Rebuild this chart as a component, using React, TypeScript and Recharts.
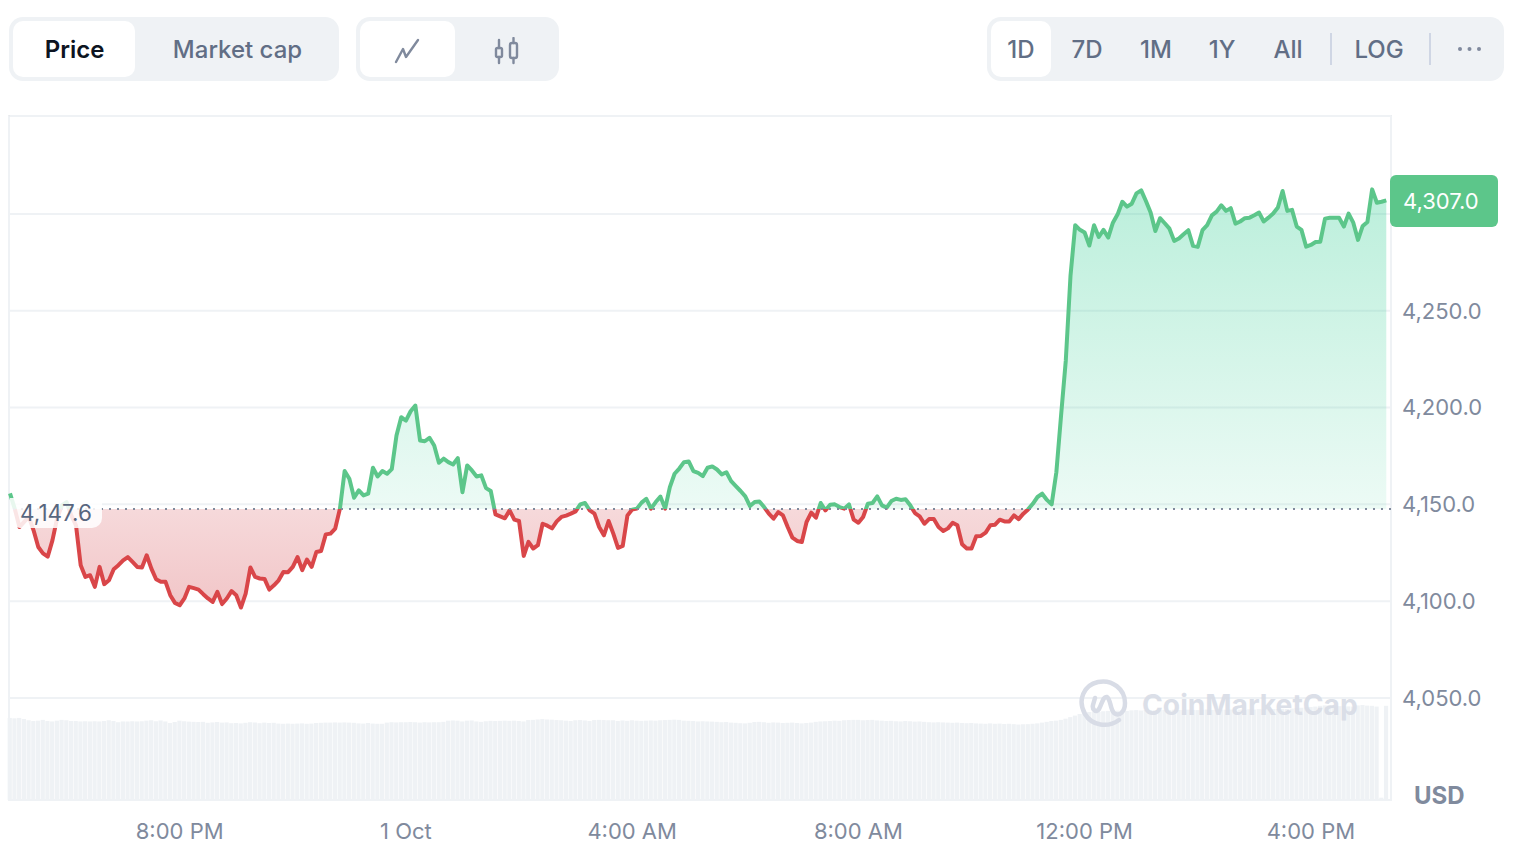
import { Area, Bar, CartesianGrid, ComposedChart, ReferenceLine, XAxis, YAxis } from "recharts";

// one sample every 5 minutes
const prices = [
  4155.7, 4147.8, 4138.3, 4140.9, 4143.5, 4136.6, 4128, 4124.7, 4123, 4131.4, 4142.8, 4149.5, 4151.2, 4144.3, 4139.2, 4118.6, 4112.5, 4113.4, 4107.4, 4117.7,
  4108.8, 4110.8, 4116.5, 4118.6, 4121.1, 4122.8, 4120.3, 4117.7, 4117.4, 4123.7, 4116.8, 4111.3, 4110, 4110, 4103.1, 4099.1, 4097.9, 4101.4, 4107.4, 4106.7,
  4106, 4103.6, 4101.4, 4099.6, 4104.8, 4098.5, 4101.4, 4105.2, 4103.1, 4096.7, 4103.9, 4117.4, 4112.5, 4111.7, 4111.5, 4106, 4108.2, 4110.8, 4115.1, 4115,
  4117.7, 4122.8, 4116, 4121.5, 4117.7, 4125.4, 4125.9, 4134.5, 4134.9, 4137.5, 4147.8, 4167.2, 4163.2, 4153.4, 4157.2, 4154.6, 4155.5, 4168.9, 4164.4, 4167.2,
  4165.8, 4168.2, 4185.6, 4195, 4193.3, 4198.1, 4201, 4183, 4182.6, 4184.4, 4180.4, 4171.5, 4173.6, 4171.8, 4170.6, 4173.9, 4156.3, 4170.1, 4167.5, 4164.4,
  4165, 4158.4, 4156.9, 4144.8, 4143.8, 4142.8, 4146.9, 4142.1, 4141.4, 4123.4, 4130.6, 4127.2, 4128.9, 4140, 4139, 4137.6, 4141.2, 4143.5, 4144.2, 4145.2,
  4146.4, 4150, 4150.7, 4146.9, 4145.2, 4138.3, 4134, 4141.4, 4134.9, 4127.5, 4128.5, 4144.3, 4147.3, 4147.8, 4150.9, 4152.9, 4147.8, 4151.2, 4154, 4147.8,
  4158.9, 4165.8, 4168.5, 4171.8, 4172.2, 4167.2, 4166.3, 4164.6, 4168.9, 4169.6, 4168, 4165.5, 4166.6, 4162, 4159.4, 4156.9, 4154.1, 4149.1, 4151.2, 4151.5,
  4148.6, 4145.2, 4142.6, 4146, 4144.3, 4138.3, 4132.8, 4131.1, 4130.6, 4140.9, 4145.7, 4143.1, 4150.7, 4146.9, 4149.8, 4150, 4148.6, 4147.8, 4150, 4142.1,
  4140.5, 4143.5, 4150.3, 4150.7, 4154.1, 4149.5, 4148.3, 4151.7, 4152.9, 4152.3, 4152.6, 4149.5, 4145.5, 4143.8, 4140, 4142.4, 4142.4, 4138.3, 4136.2, 4137.6,
  4140.5, 4139.2, 4129.4, 4127.2, 4127.2, 4133.5, 4133.7, 4135.4, 4139.2, 4139.5, 4142.1, 4141.2, 4141.2, 4144.3, 4142.4, 4145.2, 4147.4, 4150.3, 4153.8, 4155.5,
  4152.3, 4150, 4166.6, 4195.9, 4224.2, 4268, 4294.2, 4291.8, 4290.4, 4283.7, 4294.2, 4288.1, 4291.8, 4287.8, 4295.5, 4299.8, 4306.3, 4303.8, 4305.3, 4310.6,
  4312.2, 4306.7, 4300.7, 4291.2, 4297.8, 4295.2, 4292.4, 4286.1, 4287.3, 4289.5, 4291.6, 4283.5, 4283, 4291.6, 4294.2, 4299.3, 4301.2, 4304.5, 4301.6, 4303,
  4295, 4296.1, 4297.8, 4298.1, 4299.3, 4300.7, 4296.1, 4298.1, 4300.2, 4303.3, 4311.9, 4301.6, 4302.1, 4293.5, 4291.8, 4283.1, 4284, 4285.5, 4285.7, 4297.6,
  4298, 4298.1, 4298, 4293.5, 4300.2, 4295.5, 4286.6, 4293.8, 4295.9, 4312.7, 4305.8, 4306.3, 4307,
];

// billions USD, 24h rolling
const volumes = [
  42, 41.8, 42, 41.4, 40.8, 40.4, 40.6, 41, 40.4, 40.2, 40.6, 41, 40.8, 40.4, 40.4, 40.2, 40.3, 40.2, 40.3, 40.2,
  40.4, 40.8, 40.4, 39.8, 40.2, 40.2, 40.3, 40.2, 40.3, 40.6, 40.8, 40.3, 40.7, 40.2, 39.4, 39.9, 40.6, 40.3, 40.1, 40,
  39.9, 40, 39.5, 39.7, 39.9, 39.6, 39.7, 39.3, 39.4, 39.2, 39.5, 39.8, 39.6, 39.3, 39.6, 39.4, 39.5, 39.1, 39, 39.1,
  39, 39.1, 39.2, 39, 39.1, 39.4, 39.5, 39.6, 39.6, 39.7, 39.6, 39.7, 39.6, 39.5, 39.2, 39.1, 39.4, 39.1, 39, 39,
  39.6, 39.8, 39.7, 39.8, 39.8, 39.9, 39.8, 39.6, 39.8, 39.7, 39.8, 39.8, 40, 40.6, 40.7, 40.6, 40.2, 40.6, 40.7, 40.2,
  40, 40.3, 40.5, 40.4, 40.5, 40.6, 40.5, 40.6, 40.4, 40.2, 40.9, 41, 41.2, 41.4, 41.2, 41.1, 40.9, 40.8, 40.6, 40.4,
  40.8, 40.9, 40.7, 40.4, 40.9, 41, 40.9, 40.8, 40.8, 40.4, 40.7, 40.5, 40.8, 40.6, 40.5, 40.6, 40.7, 40.6, 40.8, 40.9,
  41, 41.1, 41, 40.6, 40.5, 40.4, 40.2, 40.3, 40.2, 40.1, 40, 39.8, 39.9, 39.6, 39.5, 39.3, 39.2, 39.5, 39.9, 40,
  39.8, 39.5, 39.7, 39.6, 39.4, 39.5, 39.6, 39.4, 39.2, 39.4, 39.6, 40, 40.2, 40.3, 40.4, 40.6, 40.5, 40.8, 40.9, 41,
  41, 40.8, 40.9, 41, 40.7, 40.6, 40.4, 40.5, 40.3, 40.2, 40.4, 40.3, 40.1, 40.2, 40, 39.8, 39.7, 39.8, 39.7, 39.6,
  39.5, 39.6, 39.4, 39.3, 39.4, 39.2, 39.1, 39, 39.2, 39, 39.1, 38.9, 39, 38.8, 38.6, 38.7, 38.8, 39, 39.2, 39.6,
  40, 40.4, 40.6, 41, 41.6, 42.4, 43.2, 44, 44.6, 45, 45.2, 45.1, 45.4, 45.6, 45.5, 45.7, 45.8, 45.6, 45.9, 46,
  45.8, 46.1, 46, 45.9, 46, 46.1, 46, 46.2, 46.1, 46, 46.2, 46.1, 46, 46.2, 46.3, 46.1, 46.2, 46.3, 46.2, 46.3,
  46.4, 46.3, 46.2, 46.4, 46.3, 46.5, 46.4, 46.6, 46.5, 46.6, 46.7, 46.6, 46.8, 47, 47.2, 47.4, 47.6, 47.8, 48.2, 48.4,
  48.6, 48.3, 48, 48.1, 47.9, 47.8, 48.4, 48.6, 48.3, 48.2, 47.8, 1.2, 48.2,
];

const tickLabels: Record<number, string> = {
  36: "8:00 PM",
  84: "1 Oct",
  132: "4:00 AM",
  180: "8:00 AM",
  228: "12:00 PM",
  276: "4:00 PM",
};
const priceTicks = [4050, 4100, 4150, 4200, 4250, 4300];
const ranges = ["1D", "7D", "1M", "1Y", "All"];

const baseline = 4147.6;
const lastPrice = 4307.0;
const priceDomain: [number, number] = [3997.3, 4350.6];
const volumeDomain: [number, number] = [0, 350];

const data = prices.map((price, i) => ({ i, price, volume: volumes[i] }));

const FONT = "Inter, sans-serif";
const splitAt = (priceDomain[1] - baseline) / (priceDomain[1] - priceDomain[0]);
const fmt = (v: number) =>
  v.toLocaleString("en-US", { minimumFractionDigits: 1, maximumFractionDigits: 1 });

function Label({ x, text, active }: { x: number; text: string; active?: boolean }) {
  return (
    <div
      style={{
        position: "absolute",
        left: x,
        top: 49,
        transform: "translate(-50%, -50%)",
        fontSize: 24,
        fontWeight: active ? 600 : 500,
        color: active ? "#0d1421" : "#616e85",
        whiteSpace: "nowrap",
      }}
    >
      {text}
    </div>
  );
}

function Pill({ x, width }: { x: number; width: number }) {
  return (
    <div
      style={{ position: "absolute", left: x, top: 17, width, height: 64, background: "#eff2f5", borderRadius: 14 }}
    />
  );
}

function ActivePill({ x, width }: { x: number; width: number }) {
  return (
    <div
      style={{ position: "absolute", left: x, top: 21, width, height: 56, background: "#fff", borderRadius: 10 }}
    />
  );
}

function Divider({ x }: { x: number }) {
  return <div style={{ position: "absolute", left: x, top: 33, width: 1.5, height: 32, background: "#cfd6e4" }} />;
}

export default function App() {
  return (
    <div style={{ position: "absolute", left: 0, top: 0, width: 1534, height: 846, fontFamily: FONT, overflow: "hidden", background: "#fff" }}>
      <Pill x={9} width={330} />
      <ActivePill x={13} width={122} />
      <Label x={74.5} text="Price" active />
      <Label x={237.5} text="Market cap" />

      <Pill x={355.5} width={203.5} />
      <ActivePill x={359.5} width={95.5} />
      <svg style={{ position: "absolute", left: 393, top: 37 }} width={28} height={28} viewBox="0 0 28 28" fill="none">
        <path d="M3 25 L10 12 L13 20 L25 3" stroke="#808a9d" strokeWidth={2.4} strokeLinejoin="round" strokeLinecap="round" />
      </svg>
      <svg style={{ position: "absolute", left: 493, top: 37 }} width={28} height={28} viewBox="0 0 28 28" fill="none" stroke="#808a9d" strokeWidth={2.4}>
        <rect x={3} y={11} width={6} height={9} rx={1.5} />
        <path d="M6 3 V11 M6 20 V26" strokeLinecap="round" />
        <rect x={17} y={6} width={7} height={15} rx={2} />
        <path d="M20.5 1 V6 M20.5 21 V26" strokeLinecap="round" />
      </svg>

      <Pill x={987} width={517} />
      <ActivePill x={991} width={60} />
      {ranges.map((r, i) => (
        <Label key={r} x={[1021, 1087, 1156, 1222, 1288][i]} text={r} />
      ))}
      <Divider x={1330} />
      <Label x={1379} text="LOG" />
      <Divider x={1429} />
      <svg style={{ position: "absolute", left: 1456, top: 44 }} width={28} height={10} fill="#808a9d">
        <circle cx={4} cy={5} r={2} />
        <circle cx={13.5} cy={5} r={2} />
        <circle cx={23} cy={5} r={2} />
      </svg>

      {/* chart frame */}
      <div
        style={{
          position: "absolute",
          left: 8,
          top: 115,
          width: 1380,
          height: 682,
          borderTop: "2px solid #e8eaed",
          borderLeft: "2px solid #eff2f5",
          borderRight: "2px solid #eff2f5",
          borderBottom: "2px solid #eff2f5",
        }}
      />

      <div style={{ position: "absolute", left: 0, top: 0 }}>
        <ComposedChart
          width={1534}
          height={846}
          data={data}
          margin={{ top: 116, right: 0, left: 10, bottom: 0 }}
          style={{ fontFamily: FONT }}
        >
          <defs>
            <linearGradient id="fillSplit" gradientUnits="userSpaceOnUse" x1={0} y1={116} x2={0} y2={800}>
              <stop offset={0} stopColor="#16c784" stopOpacity={0.34} />
              <stop offset={splitAt} stopColor="#16c784" stopOpacity={0.08} />
              <stop offset={splitAt} stopColor="#d0383f" stopOpacity={0.19} />
              <stop offset={0.72} stopColor="#d0383f" stopOpacity={0.29} />
              <stop offset={1} stopColor="#d0383f" stopOpacity={0.31} />
            </linearGradient>
            <linearGradient id="lineSplit" gradientUnits="userSpaceOnUse" x1={0} y1={116} x2={0} y2={800}>
              <stop offset={splitAt} stopColor="#5cc68a" />
              <stop offset={splitAt} stopColor="#d94649" />
            </linearGradient>
          </defs>
          <CartesianGrid yAxisId="price" vertical={false} stroke="#eff2f5" strokeWidth={2} />
          <XAxis
            dataKey="i"
            type="number"
            domain={[0, 293]}
            ticks={Object.keys(tickLabels).map(Number)}
            tickFormatter={(v: number) => tickLabels[v]}
            height={46}
            tickLine={false}
            axisLine={false}
            tickMargin={17}
            interval={0}
            tick={{ fontSize: 22, fill: "#808a9d" }}
          />
          <YAxis
            yAxisId="price"
            orientation="right"
            domain={priceDomain}
            ticks={priceTicks}
            // the 4,300 label sits under the last price tag in the original
            tickFormatter={(v: number) => (v === 4300 ? "" : fmt(v))}
            width={143}
            tickLine={false}
            axisLine={false}
            tickMargin={5}
            interval={0}
            tick={{ fontSize: 22, fill: "#808a9d" }}
          />
          <YAxis yAxisId="volume" hide domain={volumeDomain} />
          <Bar yAxisId="volume" dataKey="volume" fill="#eff2f5" barSize={4.2} isAnimationActive={false} />
          <Area
            yAxisId="price"
            dataKey="price"
            type="linear"
            baseValue={baseline}
            stroke="url(#lineSplit)"
            strokeWidth={4}
            strokeLinejoin="round"
            fill="url(#fillSplit)"
            fillOpacity={1}
            dot={false}
            activeDot={false}
            isAnimationActive={false}
          />
          <ReferenceLine yAxisId="price" y={baseline} stroke="#808a9d" strokeWidth={2} strokeDasharray="2 6" />
        </ComposedChart>
      </div>

      {/* open price chip */}
      <div
        style={{
          position: "absolute",
          left: 10,
          top: 498,
          width: 92,
          height: 30,
          lineHeight: "30px",
          textAlign: "center",
          fontSize: 22.5,
          color: "#58667e",
          background: "rgba(255,255,255,0.86)",
          borderRadius: "0 0 10px 10px",
        }}
      >
        {fmt(baseline)}
      </div>

      {/* last price tag */}
      <div
        style={{
          position: "absolute",
          left: 1390,
          top: 175,
          width: 108,
          height: 52,
          lineHeight: "52px",
          paddingLeft: 13,
          boxSizing: "border-box",
          fontSize: 22,
          color: "#fff",
          background: "#5cc68a",
          borderRadius: 6,
        }}
      >
        {fmt(lastPrice)}
      </div>

      <div style={{ position: "absolute", left: 1414, top: 781, fontSize: 24, fontWeight: 700, color: "#808a9d", lineHeight: "30px" }}>
        USD
      </div>

      {/* watermark */}
      <svg style={{ position: "absolute", left: 1078, top: 678 }} width={52} height={52} viewBox="0 0 52 52" fill="none" stroke="#d8dce6" strokeWidth={4.5} strokeLinecap="round" strokeLinejoin="round">
        <path d="M41 42 C30 50 14 48 7 36 C-1 22 6 7 20 4 C34 1 47 11 47 25 C47 34 41 39 36 35 C32 31 33 22 29 19 C25 18 24 26 21 31 C18 36 14 31 15 27 L17 20" />
      </svg>
      <div style={{ position: "absolute", left: 1142, top: 687, fontSize: 28.2, fontWeight: 700, color: "#d8dce6", lineHeight: "36px", opacity: 0.9 }}>
        CoinMarketCap
      </div>
    </div>
  );
}
